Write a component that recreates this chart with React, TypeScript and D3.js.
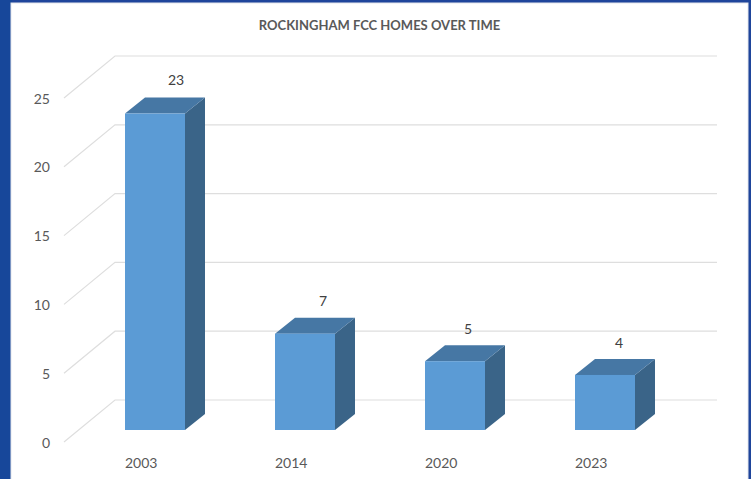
import { useEffect, useRef } from 'react';
import * as d3 from 'd3';

const years = ['2003', '2014', '2020', '2023'];
const homes = [23, 7, 5, 4];
const yTicks = [0, 5, 10, 15, 20, 25];
const title = 'ROCKINGHAM FCC HOMES OVER TIME';

// data labels were dragged by hand in the original
const labelNudgeX = [0, -3, -8, -7];
const labelNudgeY = [0, 1, 2, 2];

const w = 751;
const h = 479;
const font = 'Lato, "Open Sans", sans-serif';

export default function App() {
    const svgRef = useRef<SVGSVGElement | null>(null);

    useEffect(() => {
        if (!svgRef.current) return;
        const svg = d3.select(svgRef.current);
        svg.selectAll('*').remove();

        // blue slide behind the white chart card
        svg.append('rect').attr('width', w).attr('height', h).attr('fill', '#1f459b');
        svg.append('rect').attr('width', 12).attr('height', h).attr('fill', '#17479a');
        svg.append('rect').attr('x', 11).attr('y', 3).attr('width', 737).attr('height', h)
            .attr('fill', '#fff').attr('stroke', '#e4e6ec').attr('stroke-width', 1);

        svg.append('text')
            .attr('x', 379.5).attr('y', 30)
            .attr('text-anchor', 'middle')
            .style('font-family', font)
            .style('font-size', '13px')
            .style('font-weight', 700)
            .attr('fill', '#595959')
            .text(title);

        // front plane of the value axis, and the offset to the back wall
        const y = d3.scaleLinear().domain([0, 25]).range([442, 98]);
        const wallX0 = 115;
        const wallX1 = 717;
        const wallLeft = 64;
        const wallDy = -42;

        const grid = svg.append('g');
        yTicks.forEach(t => {
            const line = d3.line()([
                [wallLeft, y(t)],
                [wallX0, y(t) + wallDy],
                [wallX1, y(t) + wallDy],
            ]);
            grid.append('path')
                .attr('d', line)
                .attr('fill', 'none')
                .attr('stroke', '#dedede')
                .attr('stroke-width', 1.2);
        });

        svg.append('g').selectAll('text')
            .data(yTicks)
            .join('text')
            .attr('x', 50)
            .attr('y', d => y(d) + 5.5)
            .attr('text-anchor', 'end')
            .style('font-family', font)
            .style('font-size', '14px')
            .attr('fill', '#595959')
            .text(d => d);

        // bars
        const x = d3.scaleBand()
            .domain(years)
            .range([80, 680])
            .paddingInner(0.6)
            .paddingOuter(0.3);
        const barH = d3.scaleLinear().domain([0, 25]).range([0, 344]);
        const base = 430;
        const dx = 20;
        const dy = -16;
        const bw = x.bandwidth();

        const bars = svg.append('g').selectAll('g')
            .data(years.map((year, i) => ({ year, value: homes[i], i })))
            .join('g')
            .attr('transform', d => `translate(${x(d.year)},0)`);

        bars.append('path')
            .attr('fill', '#3a6488')
            .attr('d', d => {
                const top = base - barH(d.value);
                return d3.line()([[bw, top], [bw + dx, top + dy], [bw + dx, base + dy], [bw, base]]) + 'Z';
            });
        bars.append('path')
            .attr('fill', '#4677a4')
            .attr('d', d => {
                const top = base - barH(d.value);
                return d3.line()([[0, top], [dx, top + dy], [bw + dx, top + dy], [bw, top]]) + 'Z';
            });
        bars.append('rect')
            .attr('y', d => base - barH(d.value))
            .attr('width', bw)
            .attr('height', d => barH(d.value))
            .attr('fill', '#5b9bd5');

        bars.append('text')
            .attr('x', d => bw - 9 + labelNudgeX[d.i])
            .attr('y', d => base - barH(d.value) + dy - 13 + labelNudgeY[d.i])
            .attr('text-anchor', 'middle')
            .style('font-family', font)
            .style('font-size', '14px')
            .attr('fill', '#404040')
            .text(d => d.value);

        bars.append('text')
            .attr('x', 0)
            .attr('y', 468)
            .style('font-family', font)
            .style('font-size', '14px')
            .attr('fill', '#595959')
            .text(d => d.year);
    }, []);

    return (
        <svg
            ref={svgRef}
            width={w}
            height={h}
            viewBox={`0 0 ${w} ${h}`}
            style={{ position: 'absolute', left: 0, top: 0, display: 'block' }}
        />
    );
}
